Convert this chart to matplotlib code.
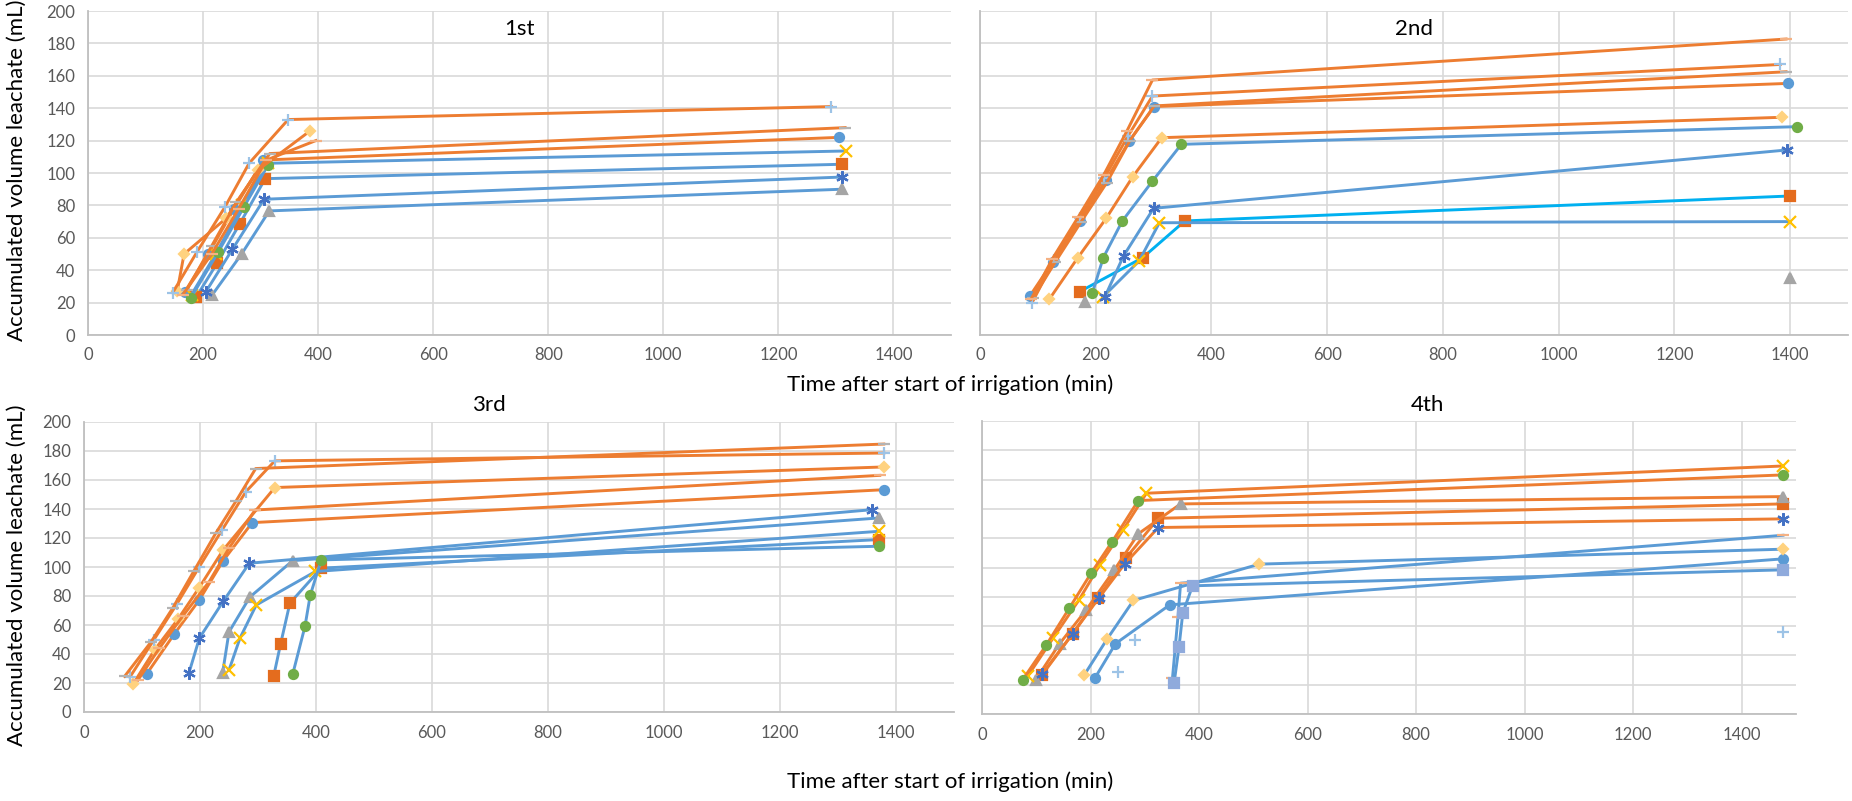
import matplotlib
matplotlib.use("Agg")
import matplotlib.pyplot as plt

# ---- data ----
# marker key per series, x (min) and y (mL) per series, line colour key per series

P1_SERIES = ['circle', 'square', 'triangle', 'xgold', 'asterisk', 'green', 'diamond', 'plus', 'graydash', 'pinkdash']
P1_X = [
    [168, 209, 254, 305, 1306],
    [188, 225, 264, 308, 1311],
    [216, 267, 315, 1311],
    [180, 222, 268, 312, 1318],
    [205, 251, 306, 1310],
    [179, 226, 271, 313],
    [155, 167, 240, 296, 386],
    [147, 189, 238, 280, 348, 1292],
    [172, 215, 258, 316, 1316],
    [165, 215, 262, 310, 396],
]
P1_Y = [
    [26.5, 50, 78, 108, 122],
    [23.4, 44.7, 68.8, 96.5, 105.4],
    [24.8, 50, 76.6, 90],
    [25, 50, 80, 106, 113.6],
    [26.8, 52.9, 83.8, 97.5],
    [23, 51, 79, 105],
    [27, 50, 72, 102, 126],
    [26, 51, 79, 106, 133, 141],
    [28, 55, 82, 112, 128],
    [25, 50, 78, 108, 120],
]
P1_LINE = ['orange', 'blue', 'blue', 'blue', 'blue', 'blue', 'orange', 'orange', 'orange', 'orange']

P2_SERIES = ['circle', 'square', 'triangle', 'xgold', 'asterisk', 'green', 'diamond', 'plus', 'graydash', 'pinkdash']
P2_X = [
    [86, 126, 173, 218, 258, 301, 1396],
    [172, 281, 354, 1399],
    [181, 1399],
    [213, 275, 310, 1399],
    [216, 248, 300, 1394],
    [194, 213, 246, 298, 348, 1412],
    [120, 169, 218, 264, 314, 1386],
    [90, 128, 172, 215, 256, 298, 1383],
    [92, 130, 175, 219, 259, 301, 1393],
    [88, 125, 170, 214, 254, 298, 1393],
]
P2_Y = [
    [24, 45.3, 70.4, 95.7, 119.8, 141, 155.3],
    [26.7, 47.7, 70.4, 85.8],
    [20.6, 35],
    [23.7, 45.7, 69.3, 70],
    [23.7, 48.8, 78.2, 114.2],
    [25.7, 47.7, 70.4, 95, 117.7, 128.6],
    [22.2, 47.7, 72, 97.7, 121.8, 134.4],
    [20, 46, 72, 97, 123, 147.5, 167],
    [23, 45, 70, 94, 120, 141.4, 162.5],
    [22, 47, 73, 99, 126, 157.4, 182.7],
]
P2_LINE = ['orange', 'cyan', None, 'blue', 'blue', 'blue', 'orange', 'orange', 'orange', 'orange']

P3_SERIES = ['circle', 'square', 'triangle', 'xgold', 'asterisk', 'green', 'diamond', 'plus', 'graydash', 'pinkdash']
P3_X = [
    [108, 156, 199, 240, 290, 1379],
    [327, 339, 355, 409, 1370],
    [239, 250, 286, 360, 1370],
    [250, 269, 297, 399, 1370],
    [181, 199, 240, 285, 1358],
    [360, 381, 390, 409, 1370],
    [85, 122, 162, 198, 240, 329, 1379],
    [79, 120, 160, 199, 238, 279, 329, 1379],
    [70, 115, 153, 189, 227, 262, 296, 1379],
    [93, 130, 170, 216, 250, 295, 1372],
]
P3_Y = [
    [26.2, 54, 77.4, 104.4, 130.6, 153.3],
    [24.7, 47, 75.1, 99.2, 118.9],
    [27, 55.2, 79.3, 104.4, 133.8],
    [28.9, 51, 73.8, 96.9, 124.6],
    [27, 51, 76.3, 102.6, 139.5],
    [26.3, 59.1, 80.4, 104.9, 114.3],
    [19.5, 43, 64, 85.4, 111.8, 154.8, 169],
    [24, 49.5, 74.4, 100.3, 125.5, 151.9, 173.2, 178.6],
    [24.6, 48, 71.7, 96.9, 123.2, 145.4, 167.9, 184.8],
    [22, 44, 66, 90, 113, 139.3, 163.2],
]
P3_LINE = ['orange', 'blue', 'blue', 'blue', 'blue', 'blue', 'orange', 'orange', 'orange', 'orange']

P4_SERIES = ['circle', 'square', 'triangle', 'xgold', 'asterisk', 'green', 'diamond', 'plus', 'pinkdash', 'purple']
P4_X = [
    [208, 246, 346, 1476],
    [111, 167, 213, 266, 325, 1476],
    [99, 143, 192, 244, 288, 366, 1476],
    [84, 131, 179, 217, 260, 303, 1476],
    [111, 167, 215, 263, 325, 1476],
    [75, 118, 161, 201, 240, 288, 1476],
    [188, 231, 279, 511, 1476],
    [250, 282, 1476],
    [351, 361, 366, 1476],
    [354, 363, 370, 388, 1476],
]
P4_Y = [
    [24.5, 48, 74.5, 105.9],
    [26.8, 54.8, 79, 106.8, 133.6, 143.4],
    [23.4, 48, 71, 98.4, 123, 143.4, 148.4],
    [25.7, 51.8, 78, 101.8, 125.7, 150.7, 169.3],
    [27.5, 54.8, 79, 102.5, 127.3, 133.2],
    [23.4, 46.8, 72.3, 96.1, 117.7, 145.7, 163.2],
    [26.4, 51.4, 77.5, 102.3, 112.5],
    [29, 50.2, 55.7],
    [24.5, 65.9, 89.3, 122],
    [21.1, 45.7, 68.9, 87.5, 98.4],
]
P4_LINE = ['blue', 'orange', 'orange', 'orange', 'orange', 'orange', 'blue', None, 'blue', 'blue']

TITLES = ['1st', '2nd', '3rd', '4th']
X_TICKS = [0, 200, 400, 600, 800, 1000, 1200, 1400]
Y_TICKS = [0, 20, 40, 60, 80, 100, 120, 140, 160, 180, 200]

# ---- styles ----
LINE_COLORS = {'orange': '#ED7D31', 'blue': '#5B9BD5', 'cyan': '#00B0F0'}
MARKERS = {
    'circle': ('o', '#5B9BD5', 6.5),
    'square': ('s', '#E46C1E', 6.5),
    'triangle': ('^', '#A5A5A5', 7),
    'xgold': ('x', '#FFC000', 8),
    'asterisk': ((6, 2, 0), '#4472C4', 9),
    'green': ('o', '#70AD47', 6.5),
    'diamond': ('D', '#FFD27F', 5.5),
    'plus': ('+', '#9DC3E6', 9),
    'graydash': ('_', '#B4B4B4', 9),
    'pinkdash': ('_', '#F4B183', 9),
    'purple': ('s', '#8FAADC', 7),
}

plt.rcParams['font.family'] = ['Lato', 'DejaVu Sans']

W, H = 1852, 801
fig = plt.figure(figsize=(W / 100, H / 100), dpi=100)


def box(l, t, r, b):
    return [l / W, 1 - b / H, (r - l) / W, (b - t) / H]


boxes = [box(88, 11, 951, 335), box(980, 11, 1848, 335),
         box(84, 422, 954, 712), box(982, 421, 1796, 714)]
panels = [(P1_SERIES, P1_X, P1_Y, P1_LINE), (P2_SERIES, P2_X, P2_Y, P2_LINE),
          (P3_SERIES, P3_X, P3_Y, P3_LINE), (P4_SERIES, P4_X, P4_Y, P4_LINE)]

for i, (bx, (names, xs, ys, lcs)) in enumerate(zip(boxes, panels)):
    ax = fig.add_axes(bx)
    ax.set_xlim(0, 1500)
    ax.set_ylim(0, 200)
    ax.set_xticks(X_TICKS)
    ax.set_yticks(Y_TICKS)
    ax.grid(True, color='#D9D9D9', lw=1.2)
    ax.set_axisbelow(True)
    for s in ['top', 'right']:
        ax.spines[s].set_visible(False)
    for s in ['left', 'bottom']:
        ax.spines[s].set_color('#BFBFBF')
        ax.spines[s].set_linewidth(1.3)
    ax.tick_params(length=0, labelsize=12, labelcolor='#595959', pad=9)
    if i in (1, 3):
        ax.tick_params(labelleft=False)
    for name, x, y, lc in zip(names, xs, ys, lcs):
        m, mc, ms = MARKERS[name]
        ax.plot(x, y, color=LINE_COLORS[lc] if lc else 'none',
                ls='-' if lc else 'none', lw=2.1,
                marker=m, ms=ms, mfc=mc, mec=mc, mew=1.6, clip_on=False)

# titles
fig.text(519 / W, 1 - 35 / H, TITLES[0], fontsize=16, ha='center', va='baseline')
fig.text(1414 / W, 1 - 35 / H, TITLES[1], fontsize=16, ha='center', va='baseline')
fig.text(489 / W, 1 - 411 / H, TITLES[2], fontsize=16, ha='center', va='baseline')
fig.text(1427 / W, 1 - 411 / H, TITLES[3], fontsize=16, ha='center', va='baseline')

# axis labels
xlab = 'Time after start of irrigation (min)'
ylab = 'Accumulated volume leachate (mL)'
fig.text(950 / W, 1 - 385 / H, xlab, fontsize=16, ha='center', va='center')
fig.text(950 / W, 1 - 782 / H, xlab, fontsize=16, ha='center', va='center')
fig.text(17 / W, 1 - 170 / H, ylab, fontsize=16, ha='center', va='center', rotation=90)
fig.text(17 / W, 1 - 575 / H, ylab, fontsize=16, ha='center', va='center', rotation=90)

fig.savefig('out.png', dpi=100)
